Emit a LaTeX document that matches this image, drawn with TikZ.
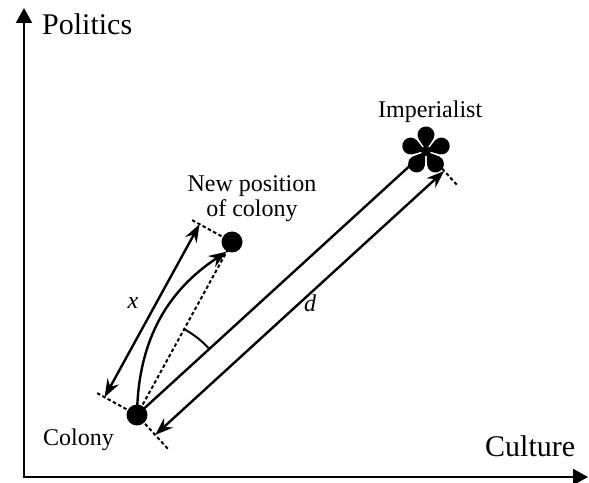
\documentclass[tikz,border=0pt]{standalone}
\usepackage{fontspec}
\setmainfont{Liberation Serif}
\usetikzlibrary{arrows.meta,calc}
\begin{document}
\begin{tikzpicture}[x=1pt,y=1pt,
  axis/.style={line width=2.2pt,-{Triangle[length=15pt,width=16pt]}},
  dim/.style={line width=2.4pt,{Stealth[length=18pt,width=13pt,inset=6pt]}-{Stealth[length=18pt,width=13pt,inset=6pt]}},
  onearrow/.style={line width=2.4pt,-{Stealth[length=18pt,width=13pt,inset=6pt]}},
  tick/.style={line width=2pt,dash pattern=on 3.5pt off 2.5pt},
  dot/.style={circle,fill=black,inner sep=0pt,minimum size=21pt},
  big/.style={font=\fontsize{30}{32}\selectfont,inner sep=0pt},
  lbl/.style={font=\fontsize{24}{25}\selectfont,inner sep=0pt}]
\useasboundingbox (0,0) rectangle (589,482);
% axes
\coordinate (O) at (24,5);
\coordinate (ytip) at (24,474);
\coordinate (xtip) at (588,5);
\draw[axis] (O) -- (ytip);
\draw[axis] ([xshift=-1.1pt]O) -- (xtip);
\node[big,anchor=base west] (pol) at (42,447) {Politics};
\node[big,anchor=base west] (cul) at (485,25) {Culture};
% points
\node[dot] (C) at (137,67) {};
\node[dot] (N) at (232,240) {};
\coordinate (S) at (426,331);
% star
\foreach \a in {0,72,144,216,288}{
  \begin{scope}[shift={(S)},rotate=\a]
  \fill (0,0) .. controls (-2,6) and (-8.5,11) .. (-8.5,16)
     arc[start angle=180,end angle=0,radius=8.5] .. controls (8.5,11) and (2,6) .. (0,0);
  \end{scope}
}
\fill (S) circle (5);
\node[lbl,anchor=base west] (imp) at (378,364) {Imperialist};
\node[lbl,align=center] (newpos) at (252,283) {New position\\of colony};
\node[lbl,anchor=base west] (col) at (43,37) {Colony};
% dashed ticks
\coordinate (cl) at ($(C)!48pt!90:(N)$);
\coordinate (nl) at ($(N)!48pt!-90:(C)$);
\coordinate (cr) at ($(C)!46pt!-90:(S)$);
\coordinate (sr) at ($(S)!46pt!90:(C)$);
\draw[tick] (C.center) -- (cl);
\draw[tick] (N.center) -- (nl);
\draw[tick] (C.center) -- (cr);
\draw[tick] (S) -- (sr);
% x dimension
\coordinate (x1) at ($(C)!37pt!90:(N)$);
\coordinate (x2) at ($(N)!37pt!-90:(C)$);
\draw[dim] (x1) -- (x2);
\node[lbl,font=\fontsize{24}{25}\selectfont\itshape] (xl) at (133,179) {x};
% d dimension
\coordinate (d1) at ($(C)!27pt!-90:(S)$);
\coordinate (d2) at ($(S)!27pt!90:(C)$);
\draw[dim] (d1) -- (d2);
\node[lbl,font=\fontsize{24}{25}\selectfont\itshape] (dl) at (310,179) {d};
% colony to imperialist
\draw[line width=2.4pt] (C.center) -- ($(C)!0.95!(S)$);
% dashed colony to new position
\draw[tick] (C.center) -- (N.center);
% curved move arrow
\draw[onearrow] (C.center) to[bend left=28] ($(N)!11pt!(C)$);
% angle arc
\draw[line width=2pt] ($(C)+(42.6:98)$) arc[start angle=42.6,end angle=61.2,radius=98];
\end{tikzpicture}
\end{document}
